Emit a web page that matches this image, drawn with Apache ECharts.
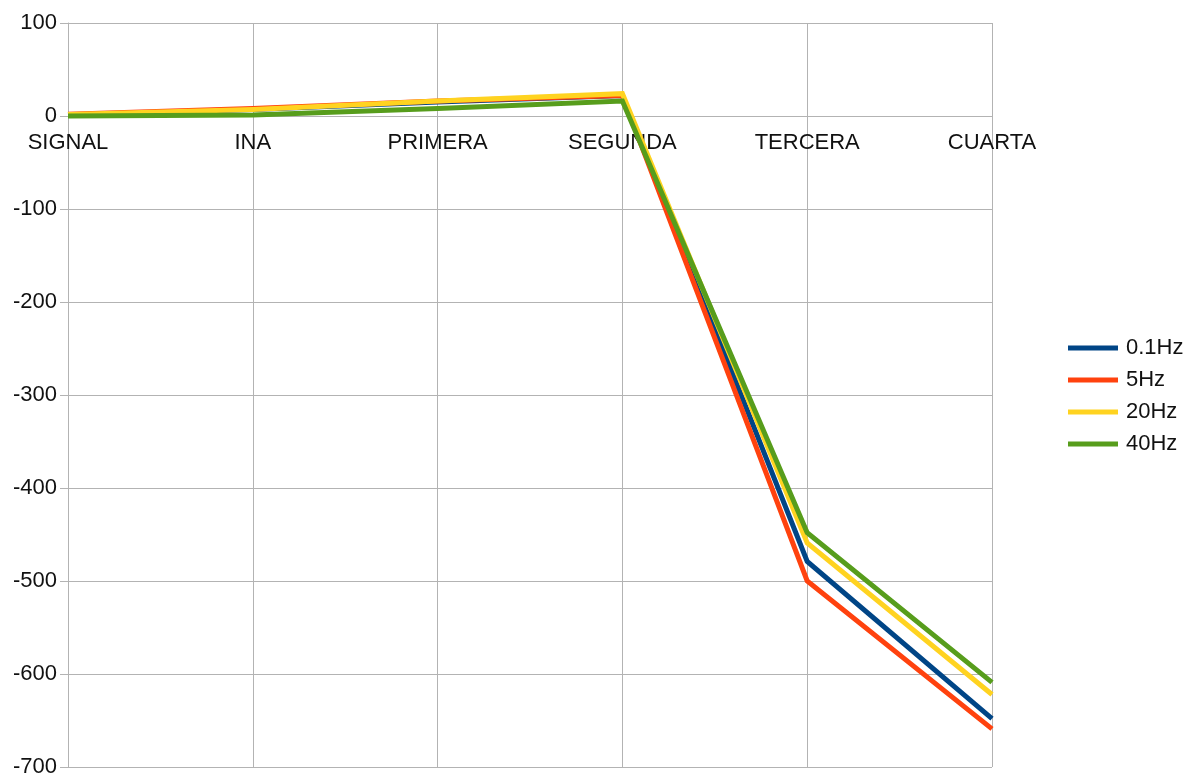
<!DOCTYPE html>
<html>
<head>
<meta charset="utf-8">
<script src="https://cdn.jsdelivr.net/npm/echarts@6/dist/echarts.min.js"></script>
<style>
  html, body { margin: 0; padding: 0; background: #fff; }
  #chart { width: 1191px; height: 775px; }
</style>
</head>
<body>
<div id="chart"></div>
<script>
// Stages of the signal chain
const categories = ['SIGNAL', 'INA', 'PRIMERA', 'SEGUNDA', 'TERCERA', 'CUARTA'];

// Measured values per frequency
const seriesNames = ['0.1Hz', '5Hz', '20Hz', '40Hz'];
const hz01 = [1, 7, 15, 22, -479, -648];
const hz5  = [2, 8, 16, 22, -500, -659];
const hz20 = [1.5, 7, 16, 24, -459, -622];
const hz40 = [0, 1, 8, 16, -448, -609];

// Value axis range and step
const yMin = -700;
const yMax = 100;
const yStep = 100;

const colors = ['#004586', '#ff420e', '#ffd320', '#579d1c'];
const values = [hz01, hz5, hz20, hz40];

const font = 'Liberation Sans, Arial, sans-serif';
const gridColor = '#b3b3b3';
const textColor = '#111111';

const chart = echarts.init(document.getElementById('chart'), null, { renderer: 'canvas' });

const gridTop = 23;

chart.setOption({
  animation: false,
  backgroundColor: '#ffffff',
  color: colors,
  grid: { left: 68, right: 199, top: gridTop, bottom: 8, containLabel: false, outerBoundsMode: 'none' },
  legend: {
    orient: 'vertical',
    left: 1063,
    top: 332,
    icon: 'rect',
    itemWidth: 50,
    itemHeight: 5,
    itemGap: 10,
    textStyle: { fontFamily: font, fontSize: 22, color: textColor, padding: [0, 0, 0, 3] },
    data: seriesNames
  },
  xAxis: {
    type: 'category',
    data: categories,
    boundaryGap: false,
    position: 'top',
    offset: 0,
    z: 0,
    axisLine: { onZero: false, lineStyle: { color: gridColor, width: 1 } },
    axisTick: { show: true, alignWithLabel: true, length: 6, inside: true, lineStyle: { color: gridColor } },
    axisLabel: { inside: true, fontFamily: font, fontSize: 22, color: textColor, margin: 16, interval: 0 },
    splitLine: { show: true, lineStyle: { color: gridColor, width: 1 } }
  },
  yAxis: {
    type: 'value',
    min: yMin,
    max: yMax,
    interval: yStep,
    z: 0,
    axisLine: { show: true, lineStyle: { color: gridColor, width: 1 } },
    axisTick: { show: true, length: 8, lineStyle: { color: gridColor } },
    axisLabel: { fontFamily: font, fontSize: 22, color: textColor, margin: 11 },
    splitLine: { show: true, lineStyle: { color: gridColor, width: 1 } }
  },
  series: seriesNames.map((name, i) => ({
    name: name,
    type: 'line',
    data: values[i],
    showSymbol: false,
    symbol: 'none',
    lineStyle: { width: 5, color: colors[i], join: 'miter' },
    itemStyle: { color: colors[i] },
    z: 5 + i
  }))
});

// Place the category axis on the zero line of the value axis
const zeroY = chart.convertToPixel({ yAxisIndex: 0 }, 0);
chart.setOption({ xAxis: { offset: -(zeroY - gridTop) } });
</script>
</body>
</html>
